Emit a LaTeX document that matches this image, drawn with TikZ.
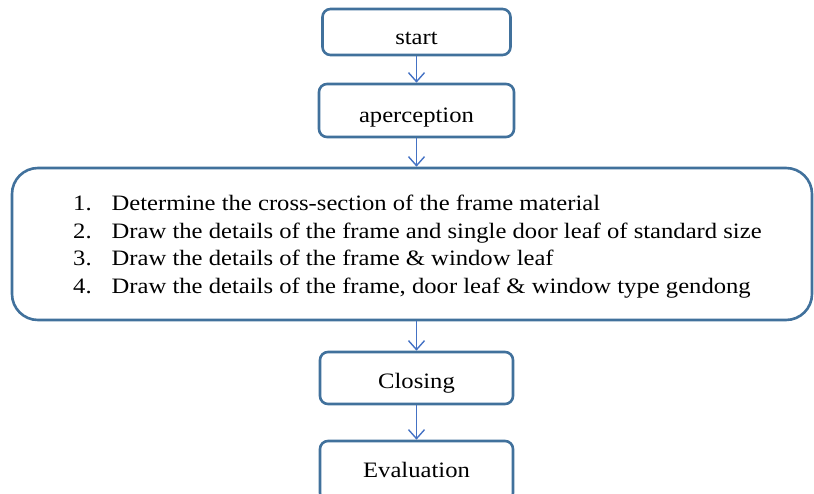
\documentclass[tikz,border=0pt]{standalone}
\usepackage{fontspec}
\setmainfont[FakeStretch=1.12]{Liberation Serif}
\usetikzlibrary{arrows.meta}
\definecolor{boxline}{RGB}{65,113,156}
\definecolor{arrowline}{RGB}{68,114,196}
\tikzset{
  stepbox/.style={draw=boxline, line width=2.6pt, rounded corners=8pt,
    fill=white, align=center, inner sep=0pt,
    text height=24pt, text depth=0pt,
    font=\fontsize{22}{26}\selectfont},
  flow/.style={draw=arrowline, line width=1.4pt,
    -{Straight Barb[length=9pt,width=16pt,line width=1.4pt]}},
}
\begin{document}
\begin{tikzpicture}[x=1pt,y=-1pt]
  \clip (0,0) rectangle (814,493);
  \useasboundingbox (0,0) rectangle (814,493);
  % process steps
  \node[stepbox, minimum width=188pt, minimum height=46pt] (start) at (416.5,32) {start};
  \node[stepbox, minimum width=195pt, minimum height=53pt] (aper) at (416.5,110.5) {aperception};
  \node[stepbox, rounded corners=26pt, minimum width=800pt, minimum height=152pt,
        text height=0pt] (tasks) at (412,244) {};
  \node[anchor=west, align=left, inner sep=0pt, font=\fontsize{22}{27.7}\selectfont] (list) at (73,246.5)
    {\begin{tabular}{@{}r@{\hspace{20pt}}l@{}}
      1. & Determine the cross-section of the frame material\\
      2. & Draw the details of the frame and single door leaf of standard size\\
      3. & Draw the details of the frame \& window leaf\\
      4. & Draw the details of the frame, door leaf \& window type gendong
    \end{tabular}};
  \node[stepbox, minimum width=193pt, minimum height=52pt, text height=21pt] (close) at (416.5,378) {Closing};
  \node[stepbox, minimum width=193pt, minimum height=60pt, text height=12pt] (eval) at (416.5,471) {Evaluation};
  % connectors
  \draw[flow] (start) -- (aper);
  \draw[flow] (aper) -- (tasks.north -| aper.south);
  \draw[flow] (tasks.south -| close.north) -- (close);
  \draw[flow] (close) -- (eval);
\end{tikzpicture}
\end{document}
